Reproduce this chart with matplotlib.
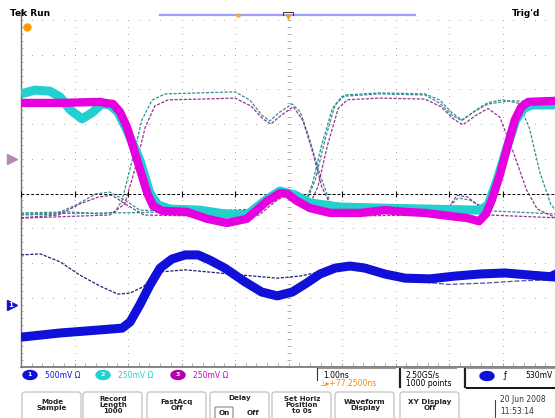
import matplotlib
matplotlib.use("Agg")
import matplotlib.pyplot as plt
from matplotlib.patches import FancyBboxPatch, Ellipse
import numpy as np

# ---- waveform data: time in ns (1 ns/div, 0..10), level in divisions (-5..5)
ch3_t = [0, 0.73, 1.48, 1.57, 1.72, 1.85, 1.98, 2.17, 2.36, 2.47, 2.64, 3.10, 3.48, 3.85, 4.22,
         4.60, 4.84, 4.98, 5.14, 5.40, 5.78, 6.34, 6.80, 7.18, 7.55, 8.02, 8.35, 8.56, 8.69, 8.80,
         8.95, 9.10, 9.23, 9.35, 9.48, 10.0]
ch3_v = [2.61, 2.61, 2.64, 2.61, 2.58, 2.35, 1.92, 0.97, 0.01, -0.36, -0.50, -0.53, -0.73, -0.85, -0.73,
         -0.22, 0.01, -0.01, -0.20, -0.42, -0.56, -0.56, -0.48, -0.53, -0.56, -0.65, -0.71, -0.80, -0.59, -0.19,
         0.53, 1.40, 2.12, 2.49, 2.64, 2.67]

ch2_t = [0, 0.26, 0.54, 0.73, 0.92, 1.14, 1.33, 1.51, 1.66, 1.81, 1.98, 2.22, 2.41, 2.56, 2.79, 3.35,
         3.81, 4.22, 4.60, 4.84, 5.12, 5.40, 5.96, 6.71, 7.64, 8.58, 8.73, 8.90, 9.08, 9.25, 9.40, 9.55, 10.0]
ch2_v = [2.87, 2.98, 2.95, 2.78, 2.41, 2.15, 2.33, 2.58, 2.55, 2.35, 1.83, 0.97, 0.01, -0.33, -0.45, -0.48,
         -0.59, -0.62, -0.16, 0.07, -0.04, -0.27, -0.39, -0.42, -0.45, -0.48, -0.33, 0.39, 1.31, 2.12, 2.46, 2.55, 2.55]

ch1_t = [0, 0.73, 1.48, 1.89, 2.04, 2.22, 2.41, 2.60, 2.82, 3.07, 3.31, 3.53, 3.81, 4.19, 4.50,
         4.79, 5.07, 5.31, 5.59, 5.87, 6.15, 6.43, 6.80, 7.18, 7.64, 8.11, 8.58, 9.05, 9.51, 10.0]
ch1_v = [-4.14, -4.02, -3.93, -3.88, -3.70, -3.21, -2.64, -2.15, -1.89, -1.77, -1.77, -1.92, -2.15, -2.55, -2.84,
         -2.95, -2.84, -2.61, -2.32, -2.15, -2.09, -2.15, -2.32, -2.44, -2.46, -2.38, -2.32, -2.29, -2.35, -2.41]

# persistence (older acquisitions), thin
ch1_old_t = [0, 0.36, 0.73, 1.10, 1.48, 1.81, 2.04, 2.28, 2.60, 3.07, 3.91, 4.79, 5.21, 5.59, 6.0]
ch1_old_v = [-1.77, -1.74, -1.97, -2.35, -2.67, -2.90, -2.87, -2.69, -2.26, -2.20, -2.32, -2.44, -2.38, -2.26, -2.15]
ch1_old2_t = [7.3, 8.0, 8.7, 9.3, 10.0]
ch1_old2_v = [-2.52, -2.62, -2.58, -2.52, -2.48]

teal_a_t = [0, 0.92, 1.48, 1.76, 1.89, 2.08, 2.26, 2.45, 2.69, 3.35, 4.0, 4.28, 4.50, 4.65, 4.84, 5.07,
            5.22, 5.40, 5.59, 5.78, 6.06, 7.46, 7.93, 8.17, 8.39, 8.77, 10.0]
teal_a_v = [-0.56, -0.53, -0.59, -0.53, -0.19, 0.97, 2.12, 2.69, 2.87, 2.90, 2.93, 2.69, 2.26, 2.09, 2.35, 2.58,
            2.35, 1.54, 0.53, -0.27, -0.50, -0.53, -0.48, -0.13, -0.19, -0.50, -0.59]
teal_b_t = [0, 0.64, 1.03, 1.40, 1.66, 1.94, 2.22, 3.35, 4.47, 4.75, 4.93, 5.18, 5.31, 5.50, 5.68, 5.87,
            6.06, 6.71, 7.55, 7.83, 8.06, 8.24, 8.49, 8.73, 9.14, 10.0]
teal_b_v = [-0.62, -0.59, -0.33, -0.01, 0.04, -0.19, -0.48, -0.53, -0.48, -0.04, 0.10, -0.19, -0.33, 0.39, 1.54, 2.55,
            2.84, 2.90, 2.87, 2.69, 2.32, 2.12, 2.38, 2.58, 2.67, 2.64]
teal_c_t = [0, 2.20, 3.35, 4.45, 4.80, 5.00, 5.30, 5.45, 5.62, 5.82, 6.00, 6.71, 7.55, 7.83, 8.06, 8.24,
            8.50, 8.73, 9.00, 9.30, 9.50, 9.70, 9.90, 10.0]
teal_c_v = [-0.59, -0.55, -0.50, -0.45, 0.02, 0.00, -0.30, 0.30, 1.40, 2.45, 2.80, 2.87, 2.84, 2.60, 2.25, 2.10,
            2.40, 2.62, 2.70, 2.60, 1.90, 0.60, -0.30, -0.50]
purp_a_t = [0, 1.10, 1.66, 1.94, 2.13, 2.32, 2.50, 2.75, 3.35, 4.0, 4.30, 4.52, 4.67, 4.86, 5.09, 5.27,
            5.45, 5.62, 5.82, 6.10, 7.46, 7.93, 8.15, 8.35, 8.75, 10.0]
purp_a_v = [-0.71, -0.65, -0.62, -0.30, 0.70, 1.90, 2.52, 2.70, 2.72, 2.75, 2.52, 2.15, 2.00, 2.25, 2.50, 2.10,
            1.20, 0.20, -0.45, -0.65, -0.62, -0.55, -0.05, -0.10, -0.62, -0.70]
purp_b_t = [0, 0.70, 1.10, 1.45, 1.70, 2.00, 2.30, 3.35, 4.45, 4.78, 4.95, 5.20, 5.36, 5.55, 5.73, 5.93,
            6.10, 6.71, 7.55, 7.85, 8.08, 8.26, 8.50, 8.73, 8.95, 9.20, 9.45, 9.65, 10.0]
purp_b_v = [-0.70, -0.62, -0.30, -0.10, -0.05, -0.35, -0.62, -0.65, -0.62, -0.20, -0.05, -0.35, -0.45, 0.20, 1.40, 2.45,
            2.70, 2.75, 2.72, 2.50, 2.15, 1.98, 2.25, 2.45, 2.20, 1.20, 0.10, -0.45, -0.70]

# screen markers (divisions)
ch3_ground = 1.0
ch1_ground = -3.2
trig_level_div = -2.26

# readouts
ch_labels = ["1", "2", "3"]
ch_scales = ["500mV \u03a9", "250mV \u03a9", "250mV \u03a9"]
ch_colors = ["#1010d8", "#22d0d0", "#d000d0"]
buttons = ["Mode\nSample", "Record\nLength\n1000", "FastAcq\nOff", "Delay",
           "Set Horiz\nPosition\nto 0s", "Waveform\nDisplay", "XY Display\nOff"]

W, H = 555, 418
fig = plt.figure(figsize=(W / 100, H / 100), dpi=100)
fig.patch.set_facecolor("white")

# graticule axes: 10 x 10 divisions
ax = fig.add_axes([21 / W, 51 / H, 535 / W, 347 / H])
ax.set_xlim(0, 10)
ax.set_ylim(-5, 5)
ax.axis("off")

grid_c = "#a8a8a8"
fine = np.arange(0, 10.01, 0.2)
for k in range(1, 10):
    ax.plot(np.full_like(fine, k), fine - 5, ls="none", marker="o", ms=0.8, color=grid_c, mec="none")
for k in range(-4, 6):
    ax.plot(fine, np.full_like(fine, k), ls="none", marker="o", ms=0.8, color=grid_c, mec="none")
# center ticks
ax.plot(np.full_like(fine, 5), fine - 5, ls="none", marker="_", ms=2.5, mew=0.5, color="#999999")
# borders
ax.plot([0, 0], [-5, 5.3], color="#707070", lw=1.0, clip_on=False)
ax.plot(np.zeros_like(fine), fine - 5, ls="none", marker="_", ms=3, mew=0.5, color="#888888")
ax.plot([0, 10], [-5, -5], color="#707070", lw=1.2, clip_on=False)
ax.plot(fine, np.full_like(fine, -4.95), ls="none", marker="|", ms=3, mew=0.5, color="#888888")
# center level line
ax.axhline(0, color="black", lw=0.7, ls=(0, (3, 2)))
ax.plot(np.arange(0, 11), np.zeros(11), ls="none", marker="|", ms=4, mew=0.8, color="black")

# persistence traces
teal = "#1f8585"
purp = "#8a1f8a"
for tt, vv, c in [(teal_a_t, teal_a_v, teal), (teal_b_t, teal_b_v, teal), (teal_c_t, teal_c_v, teal),
                  (purp_a_t, purp_a_v, purp), (purp_b_t, purp_b_v, purp)]:
    ax.plot(tt, vv, color=c, lw=0.9, ls=(0, (2.5, 1.2)), alpha=0.9)
ax.plot(ch1_old_t, ch1_old_v, color="#202070", lw=0.9, ls=(0, (2.5, 1.2)))
ax.plot(ch1_old2_t, ch1_old2_v, color="#5050a0", lw=0.9, ls=(0, (4, 1.5)))

# live traces
ax.plot(ch1_t, ch1_v, color=ch_colors[0], lw=6.5, solid_capstyle="butt", solid_joinstyle="round")
ax.plot(ch2_t, ch2_v, color=ch_colors[1], lw=6.5, solid_capstyle="butt", solid_joinstyle="round")
ax.plot(ch3_t, ch3_v, color="#e600e0", lw=6.0, solid_capstyle="butt", solid_joinstyle="round")

# side markers
ax.plot([-0.17], [ch3_ground], marker=">", ms=7, color="#b08ab0", clip_on=False)
ax.plot([-0.17], [ch1_ground], marker=">", ms=7, color=ch_colors[0], clip_on=False)
ax.text(-0.2, ch1_ground, "1", color="white", fontsize=5, ha="center", va="center", fontweight="bold")
ax.plot([0.11], [4.8], marker="o", ms=6, color="#ff9900", mec="none", clip_on=False)
ax.plot([9.94], [trig_level_div], marker="<", ms=4, color=ch_colors[0], clip_on=False)

# overlay in pixel coordinates for the screen furniture
ov = fig.add_axes([0, 0, 1, 1], zorder=3)
ov.set_xlim(0, W)
ov.set_ylim(H, 0)
ov.axis("off")

ov.text(10, 14, "Tek Run", fontsize=6.5, fontweight="bold", va="center", ha="left")
ov.text(512, 14, "Trig'd", fontsize=6.5, fontweight="bold", va="center", ha="left")
ov.plot([160, 415], [15, 15], color="#9c9cff", lw=1.6)
ov.plot([238], [15], marker="s", ms=3.5, color="#ffaa33", mec="none")
ov.plot([288], [17], marker="v", ms=5, color="#ff9900", mec="none")
ov.plot([283, 283, 293, 293], [15, 12, 12, 15], color="#333333", lw=0.7)

# channel readouts
for i, (lab, sc, c) in enumerate(zip(ch_labels, ch_scales, ch_colors)):
    x0 = [30, 103, 178][i]
    ov.add_patch(Ellipse((x0, 375), 14, 9, color=c if i != 2 else "#b000b0"))
    ov.text(x0, 375, lab, color="white", fontsize=4.5, ha="center", va="center", fontweight="bold")
    ov.text(x0 + 15, 375, sc, color=c, fontsize=5.5, ha="left", va="center")

# timebase boxes
ov.plot([318, 395], [368, 368], color="#999999", lw=0.8)
ov.plot([317, 317], [368, 380], color="#333333", lw=0.8)
ov.text(323, 375, "1.00ns", fontsize=5.5, ha="left", va="center")
ov.text(319, 384, "\u22a5\u25b8+77.2500ns", fontsize=5.5, ha="left", va="center", color="#ff8800")
ov.plot([400, 400], [369, 387], color="#222222", lw=1.6)
ov.plot([403, 456], [368, 368], color="#999999", lw=0.8)
ov.text(406, 375, "2.50GS/s", fontsize=5.5, ha="left", va="center")
ov.text(406, 384, "1000 points", fontsize=5.5, ha="left", va="center")
ov.plot([465, 465], [369, 387], color="#222222", lw=1.6)
ov.plot([467, 555], [368, 368], color="#999999", lw=0.8)
ov.plot([467, 555], [388, 388], color="#111111", lw=1.4)
ov.add_patch(Ellipse((487, 376), 14, 9, color=ch_colors[0]))
ov.text(505, 376, "\u0192", fontsize=6, ha="center", va="center")
ov.text(553, 376, "530mV", fontsize=5.5, ha="right", va="center")

# soft-key buttons
bx = [22, 83, 147, 210, 272, 335, 400]
for x0, lab in zip(bx, buttons):
    ov.add_patch(FancyBboxPatch((x0, 392), 59, 32, boxstyle="round,pad=0,rounding_size=3",
                                fc="white", ec="#c8c8c8", lw=1.0))
    if lab == "Delay":
        ov.text(x0 + 30, 398, lab, fontsize=5.2, fontweight="bold", ha="center", va="center", color="#222222")
        ov.add_patch(FancyBboxPatch((x0 + 5, 407), 18, 12, boxstyle="round,pad=0,rounding_size=1",
                                    fc="white", ec="#888888", lw=0.8))
        ov.text(x0 + 14, 413, "On", fontsize=5.2, fontweight="bold", ha="center", va="center", color="#222222")
        ov.text(x0 + 43, 413, "Off", fontsize=5.2, fontweight="bold", ha="center", va="center", color="#222222")
    else:
        nl = lab.count("\n") + 1
        ov.text(x0 + 30, 405 if nl == 3 else 405, lab, fontsize=5.0 if nl == 3 else 5.2,
                fontweight="bold", ha="center", va="center", color="#222222", linespacing=0.95)

ov.plot([495, 495], [400, 418], color="#444444", lw=0.8)
ov.text(500, 399, "20 Jun 2008", fontsize=5.5, ha="left", va="center", color="#333333")
ov.text(500, 412, "11:53:14", fontsize=5.5, ha="left", va="center", color="#333333")

fig.savefig("out.png", dpi=100, facecolor="white")
